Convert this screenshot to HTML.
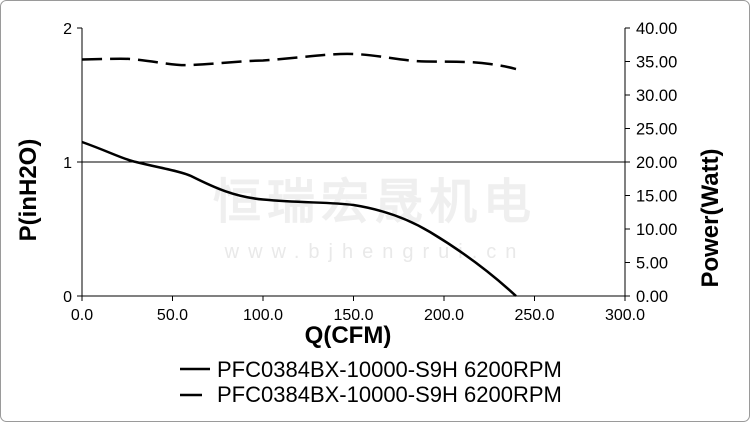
<!DOCTYPE html>
<html><head><meta charset="utf-8"><style>
html,body{margin:0;padding:0;background:#fff}
svg{display:block}
text{font-family:"Liberation Sans",Arial,sans-serif}
</style></head><body>
<svg width="750" height="422" viewBox="0 0 750 422" xmlns="http://www.w3.org/2000/svg">
<rect x="0.5" y="0.5" width="749" height="421" rx="6" fill="#fff" stroke="#9a9a9a"/>
<!-- watermark -->
<text x="375" y="218" text-anchor="middle" font-size="48" fill="#efefef" font-family="'Noto Sans CJK SC',sans-serif" font-weight="bold" letter-spacing="6">恒瑞宏晟机电</text>
<text x="375" y="258" text-anchor="middle" font-size="20" fill="#e9e9e9" letter-spacing="9">www.bjhengrui.cn</text>
<!-- axes -->
<line x1="82" y1="28" x2="82" y2="296" stroke="#000"/>
<line x1="625" y1="28" x2="625" y2="296" stroke="#000"/>
<line x1="82" y1="296" x2="625" y2="296" stroke="#000"/>
<line x1="82" y1="162" x2="625" y2="162" stroke="#000"/>
<g stroke="#000">
<line x1="77" y1="28" x2="82" y2="28"/><line x1="77" y1="162" x2="82" y2="162"/><line x1="77" y1="296" x2="82" y2="296"/>
<line x1="625" y1="28" x2="630" y2="28"/><line x1="625" y1="61.5" x2="630" y2="61.5"/><line x1="625" y1="95" x2="630" y2="95"/><line x1="625" y1="128.5" x2="630" y2="128.5"/><line x1="625" y1="162" x2="630" y2="162"/><line x1="625" y1="195.5" x2="630" y2="195.5"/><line x1="625" y1="229" x2="630" y2="229"/><line x1="625" y1="262.5" x2="630" y2="262.5"/><line x1="625" y1="296" x2="630" y2="296"/>
<line x1="82" y1="296" x2="82" y2="301"/><line x1="172.5" y1="296" x2="172.5" y2="301"/><line x1="263" y1="296" x2="263" y2="301"/><line x1="353.5" y1="296" x2="353.5" y2="301"/><line x1="444" y1="296" x2="444" y2="301"/><line x1="534.5" y1="296" x2="534.5" y2="301"/><line x1="625" y1="296" x2="625" y2="301"/>
</g>
<g font-size="16" text-anchor="end">
<text x="72" y="34">2</text><text x="72" y="168">1</text><text x="72" y="302">0</text>
</g>
<g font-size="16.5" text-anchor="start">
<text x="636" y="34">40.00</text><text x="636" y="67.5">35.00</text><text x="636" y="101">30.00</text><text x="636" y="134.5">25.00</text><text x="636" y="168">20.00</text><text x="636" y="201.5">15.00</text><text x="636" y="235">10.00</text><text x="636" y="268.5">5.00</text><text x="636" y="302">0.00</text>
</g>
<g font-size="16" text-anchor="middle">
<text x="82" y="320">0.0</text><text x="172.5" y="320">50.0</text><text x="263" y="320">100.0</text><text x="353.5" y="320">150.0</text><text x="444" y="320">200.0</text><text x="534.5" y="320">250.0</text><text x="625" y="320">300.0</text>
</g>
<text x="348" y="343" font-size="24" font-weight="bold" text-anchor="middle">Q(CFM)</text>
<text transform="translate(36,190) rotate(-90)" font-size="24" font-weight="bold" text-anchor="middle">P(inH2O)</text>
<text transform="translate(718,218) rotate(-90)" font-size="24" font-weight="bold" text-anchor="middle">Power(Watt)</text>
<!-- curves -->
<path d="M82,142 C110,152 125,160 136,162 C160,168 180,171 191,176 C215,188 235,197 263,199.5 C300,203 330,202 353.5,205 C385,210 410,220 430,232 C460,250 490,272 516,296" fill="none" stroke="#000" stroke-width="2.5"/>
<path d="M82,59.5 C110,59 125,58 136,59.5 C160,62 175,66 191,65 C215,64 240,61 263,60.5 C300,58 330,53 353.5,54 C380,55 400,61 426,61.5 C450,62 470,61 490,64 C505,66 512,68 516,69" fill="none" stroke="#000" stroke-width="2.5" stroke-dasharray="20,8"/>
<!-- legend -->
<line x1="180" y1="369" x2="210" y2="369" stroke="#000" stroke-width="2.5"/>
<text x="217" y="377" font-size="22">PFC0384BX-10000-S9H 6200RPM</text>
<line x1="180" y1="395" x2="202" y2="395" stroke="#000" stroke-width="2.5"/>
<text x="217" y="402" font-size="22">PFC0384BX-10000-S9H 6200RPM</text>
</svg>
</body></html>
